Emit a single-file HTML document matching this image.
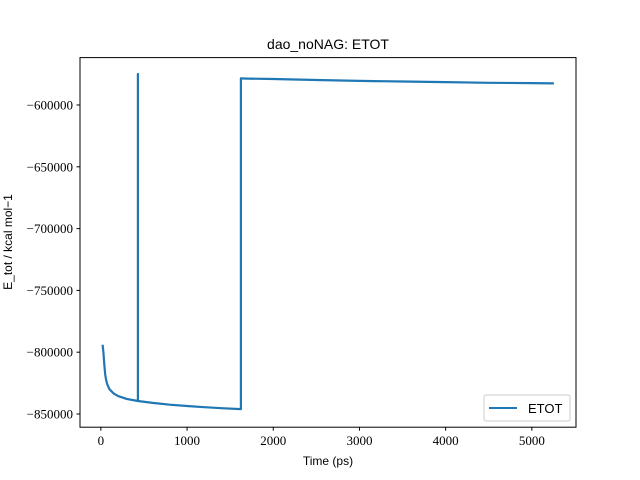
<!DOCTYPE html>
<html><head><meta charset="utf-8"><style>
body{margin:0;background:#fff}
svg{display:block}
.t{font-family:"Liberation Serif",serif;font-size:13px;fill:#000}
.s{font-family:"Liberation Sans",sans-serif;fill:#000}
</style></head><body>
<svg id="c" width="640" height="480">
<rect x="0" y="0" width="640" height="480" fill="#fff"/>
<text class="s" x="328" y="49" font-size="14" text-anchor="middle">dao_noNAG: ETOT</text>
<text class="s" x="328" y="465" font-size="12" text-anchor="middle">Time (ps)</text>
<text class="s" x="12" y="242" font-size="12" text-anchor="middle" transform="rotate(-90 12 242)">E_tot / kcal mol−1</text>
<g id="ticks"></g>
<polyline id="line" fill="none" stroke="#1f77b4" stroke-width="2.2" stroke-linejoin="round"/>
<rect x="80" y="57.6" width="496" height="369.6" fill="none" stroke="#000" stroke-width="1"/>
<g>
<rect x="484" y="395" width="86" height="26" rx="2" fill="#fff" stroke="#ccc"/>
<line x1="489" y1="408" x2="517" y2="408" stroke="#1f77b4" stroke-width="2"/>
<text class="s" x="528" y="413" font-size="13">ETOT</text>
</g>
</svg>
<script>
const times=[20,30,40,50,60,70,80,100,150,200,300,430,430,430,600,800,1000,1200,1400,1625,1625,1700,2000,2500,3000,3500,4000,4500,5000,5256];
const etot=[-794000,-800000,-810000,-818000,-822000,-825000,-827000,-830000,-833500,-835500,-837800,-839500,-574900,-839500,-841000,-842500,-843500,-844500,-845300,-846000,-578500,-578600,-579000,-579800,-580500,-581000,-581500,-582000,-582300,-582500];
const xTicks=[0,1000,2000,3000,4000,5000];
const yTicks=[-600000,-650000,-700000,-750000,-800000,-850000];
const X0=80,X1=576,Y0=57.6,Y1=427.2;
const xmin=-242,xmax=5512,ymin=-860680,ymax=-561650;
const sx=v=>X0+(v-xmin)/(xmax-xmin)*(X1-X0);
const sy=v=>Y1-(v-ymin)/(ymax-ymin)*(Y1-Y0);
const ns="http://www.w3.org/2000/svg";
const line=document.getElementById('line');
line.setAttribute('points',times.map((t,i)=>sx(t).toFixed(1)+','+sy(etot[i]).toFixed(1)).join(' '));
const g=document.getElementById('ticks');
xTicks.forEach(v=>{
 const l=document.createElementNS(ns,'line');
 l.setAttribute('x1',sx(v));l.setAttribute('x2',sx(v));l.setAttribute('y1',Y1);l.setAttribute('y2',Y1+3.5);l.setAttribute('stroke','#000');
 
 
 g.appendChild(l);
 const t=document.createElementNS(ns,'text');
 t.setAttribute('class','t');t.setAttribute('x',sx(v));t.setAttribute('y',445);t.setAttribute('text-anchor','middle');
 t.textContent=v;
 
 
 g.appendChild(t);
});
yTicks.forEach(v=>{
 const l=document.createElementNS(ns,'line');
 l.setAttribute('x1',X0-3.5);l.setAttribute('x2',X0);l.setAttribute('y1',sy(v));l.setAttribute('y2',sy(v));l.setAttribute('stroke','#000');
 
 
 g.appendChild(l);
 const t=document.createElementNS(ns,'text');
 t.setAttribute('class','t');t.setAttribute('x',X0-7);t.setAttribute('y',sy(v)+4.5);t.setAttribute('text-anchor','end');
 t.textContent='−'+Math.abs(v);
 
 
 g.appendChild(t);
});
</script>
</body></html>
